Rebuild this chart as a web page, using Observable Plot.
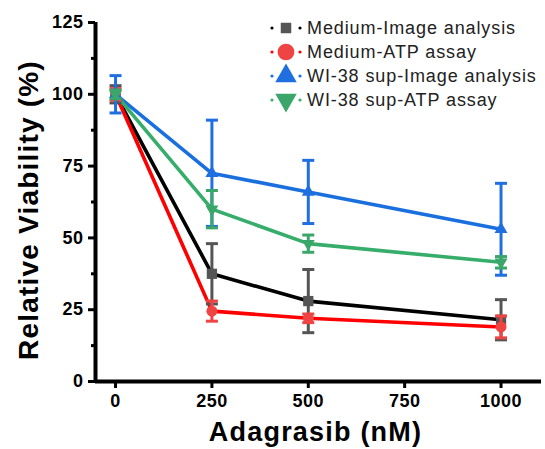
<!DOCTYPE html>
<html>
<head>
<meta charset="utf-8">
<script src="https://cdn.jsdelivr.net/npm/d3@7"></script>
<script src="https://cdn.jsdelivr.net/npm/@observablehq/plot@0.6"></script>
<style>
  body { margin: 0; background: #fff; }
  #wrap { position: relative; width: 545px; height: 449px; font-family: "Liberation Sans", Arial, sans-serif; }
  #legend { position: absolute; left: 0; top: 0; pointer-events: none; }
</style>
</head>
<body>
<div id="wrap"></div>
<script>
// ---- data ----
const doses = [0, 250, 500, 1000];
const seriesNames = ["Medium-Image analysis", "Medium-ATP assay", "WI-38 sup-Image analysis", "WI-38 sup-ATP assay"];
const medImgMean = [100, 37.5, 28, 21.5];
const medImgErr  = [3, 10.5, 11, 7];
const medAtpMean = [100, 24.5, 22, 19];
const medAtpErr  = [2, 3.5, 1.5, 3.8];
const wiImgMean  = [100, 72.5, 66, 53];
const wiImgErr   = [6.5, 18.5, 11, 16];
const wiAtpMean  = [100, 60, 48, 41.5];
const wiAtpErr   = [1.5, 6.5, 3, 2];
const yTicks = [0, 25, 50, 75, 100, 125];
const yMinorTicks = [12.5, 37.5, 62.5, 87.5, 112.5];
const xTicks = [0, 250, 500, 750, 1000];
const yTitle = "Relative Viability (%)";
const xTitle = "Adagrasib (nM)";

// ---- styles ----
const styles = [
  {line: "#000000", mark: "#555555", symbol: "square", r: 5.8, rotate: 0},
  {line: "#ff0000", mark: "#ef4444", symbol: "circle", r: 5.5, rotate: 0},
  {line: "#1a6fdf", mark: "#1f6fe0", symbol: "triangle", r: 4.8, rotate: 0},
  {line: "#37ad6b", mark: "#3aa66a", symbol: "triangle", r: 4.8, rotate: 180}
];
const means = [medImgMean, medAtpMean, wiImgMean, wiAtpMean];
const errs = [medImgErr, medAtpErr, wiImgErr, wiAtpErr];

const rows = [];
seriesNames.forEach((name, s) => doses.forEach((d, i) => rows.push({
  series: name, s, x: d, y: means[s][i], lo: means[s][i] - errs[s][i], hi: means[s][i] + errs[s][i]
})));

const cap = {draw(ctx) { ctx.moveTo(-6, 0); ctx.lineTo(6, 0); }};
const xDomain = [-52, 1105];

const marks = [];
// axis lines
marks.push(Plot.ruleX([xDomain[0]], {y1: 0, y2: 125, strokeWidth: 4, stroke: "#000"}));
marks.push(Plot.ruleY([0], {strokeWidth: 4, stroke: "#000"}));
seriesNames.forEach((name, s) => {
  const st = styles[s];
  const data = rows.filter(d => d.s === s);
  marks.push(Plot.line(data, {x: "x", y: "y", stroke: st.line, strokeWidth: 3.6}));
});
seriesNames.forEach((name, s) => {
  const st = styles[s];
  const data = rows.filter(d => d.s === s);
  marks.push(Plot.ruleX(data, {x: "x", y1: "lo", y2: "hi", stroke: st.mark, strokeWidth: 3}));
  marks.push(Plot.dot(data, {x: "x", y: "lo", symbol: cap, stroke: st.mark, fill: "none", strokeWidth: 3, r: 1}));
  marks.push(Plot.dot(data, {x: "x", y: "hi", symbol: cap, stroke: st.mark, fill: "none", strokeWidth: 3, r: 1}));
  marks.push(Plot.dot(data, {x: "x", y: "y", symbol: st.symbol, fill: st.mark, stroke: "none", r: st.r, rotate: st.rotate}));
});
// axes
marks.push(Plot.axisY(yTicks, {tickSize: 7, tickPadding: 5, strokeWidth: 3, fontSize: 18, fontWeight: "bold", label: null, tickFormat: d => String(d)}));
marks.push(Plot.axisY(yMinorTicks, {tickSize: 4, strokeWidth: 3, text: null, label: null}));
marks.push(Plot.axisX(xTicks, {tickSize: 7, tickPadding: 6, strokeWidth: 3, fontSize: 18, fontWeight: "bold", label: null, tickFormat: d => String(d)}));
// titles
marks.push(Plot.text([yTitle], {frameAnchor: "left", textAnchor: "middle", lineAnchor: "middle", rotate: -90, dx: -66, dy: 8, fontSize: 28, fontWeight: "bold", fill: "#000", text: d => d}));
marks.push(Plot.text([xTitle], {frameAnchor: "bottom", textAnchor: "middle", lineAnchor: "middle", dx: -3, dy: 51, fontSize: 27, fontWeight: "bold", fill: "#000", text: d => d}));

const chart = Plot.plot({
  width: 545,
  height: 449,
  marginLeft: 95,
  marginRight: 4,
  marginTop: 22,
  marginBottom: 68,
  style: {fontFamily: "'Liberation Sans', Arial, sans-serif", background: "#fff", color: "#000"},
  x: {domain: xDomain},
  y: {domain: [0, 125]},
  marks
});
document.getElementById("wrap").appendChild(chart);
chart.querySelectorAll("g[aria-label='x-axis tick label'] text, g[aria-label='y-axis tick label'] text").forEach(t => t.setAttribute("letter-spacing", "0.5"));
chart.querySelectorAll("g[aria-label='text'] text").forEach(t => t.setAttribute("letter-spacing", "1.2"));

// ---- legend ----
const legend = d3.select("#wrap").append("svg").attr("id", "legend").attr("width", 545).attr("height", 130);
const legendY = [28, 52, 76, 100];
const symGen = {square: d3.symbolSquare, circle: d3.symbolCircle, triangle: d3.symbolTriangle};
const legendSize = [110, 220, 200, 200];
seriesNames.forEach((name, s) => {
  const st = styles[s];
  const g = legend.append("g").attr("transform", `translate(0,${legendY[s]})`);
  g.append("circle").attr("cx", 272).attr("cy", 0).attr("r", 1.6).attr("fill", st.line);
  g.append("circle").attr("cx", 300).attr("cy", 0).attr("r", 1.6).attr("fill", st.line);
  g.append("path").attr("d", d3.symbol(symGen[st.symbol], legendSize[s])())
    .attr("transform", `translate(286,0) rotate(${st.rotate})`).attr("fill", st.mark);
  g.append("text").attr("x", 307).attr("y", 0).attr("dy", "0.35em")
    .attr("font-size", 18).attr("letter-spacing", 0.9).attr("fill", "#222")
    .attr("font-family", "'Liberation Sans', Arial, sans-serif").text(name);
});
</script>
</body>
</html>
